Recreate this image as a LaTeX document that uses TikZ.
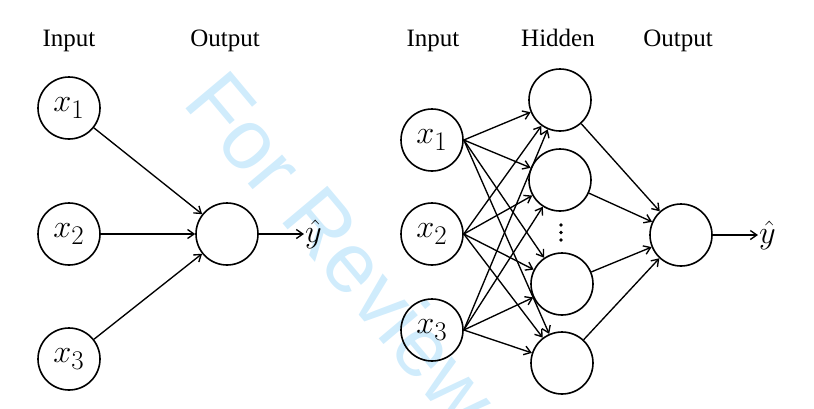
\documentclass[tikz,border=0pt]{standalone}
\usepackage{graphicx}
\usepackage{fontspec}
\setmainfont{Liberation Serif}
\newfontfamily\wmfont{Liberation Sans}
\usetikzlibrary{arrows.meta}
\definecolor{wmblue}{RGB}{208,236,252}
\newcommand{\bigmath}[1]{\scalebox{1.3}{$#1$}}
\begin{document}
\begin{tikzpicture}[x=1pt,y=-1pt,
  neuron/.style={circle,draw,line width=1.6pt,minimum size=62pt,inner sep=0pt,font=\fontsize{24.88}{27}\selectfont},
  lbl/.style={anchor=base,font=\fontsize{25}{28}\selectfont,inner sep=0pt},
  conn/.style={line width=1.35pt,-{Straight Barb[length=6.5pt,width=9pt]}},
  outl/.style={font=\fontsize{24.88}{27}\selectfont,inner sep=1pt,anchor=west},
  dotn/.style={circle,fill,inner sep=0pt,minimum size=3.8pt},
  wm/.style={text=wmblue,font=\wmfont\fontsize{85}{90}\selectfont,inner sep=0pt}]
\useasboundingbox (0,0) rectangle (814,408);
\clip (0,0) rectangle (814,408);
% watermark
\node[wm,rotate=-50,anchor=base west] (wmark) at (181,103) {For Review};
% left network
\node[lbl] (inL) at (69,46) {Input};
\node[lbl] (outLlbl) at (225,46) {Output};
\node[neuron] (a1) at (69,108) {\bigmath{x_1}};
\node[neuron] (a2) at (69,234) {\bigmath{x_2}};
\node[neuron] (a3) at (69,359) {\bigmath{x_3}};
\node[neuron] (ao) at (227,234) {};
\node[outl] (ay) at (304,234) {\bigmath{\hat{y}}};
\draw[conn] (a1) -- (ao);
\draw[conn] (a2) -- (ao);
\draw[conn] (a3) -- (ao);
\draw[conn] (ao) -- (ay);
% right network
\node[lbl] (inR) at (433,46) {Input};
\node[lbl] (hidR) at (558,46) {Hidden};
\node[lbl] (outR) at (678,46) {Output};
\node[neuron] (b1) at (432,140) {\bigmath{x_1}};
\node[neuron] (b2) at (432,234) {\bigmath{x_2}};
\node[neuron] (b3) at (432,330) {\bigmath{x_3}};
\node[neuron] (h1) at (560,100) {};
\node[neuron] (h2) at (560,180) {};
\node[neuron] (h3) at (562,284) {};
\node[neuron] (h4) at (562,363) {};
\node[dotn] (d1) at (561,225) {};
\node[dotn] (d2) at (561,232.5) {};
\node[dotn] (d3) at (561,240) {};
\node[neuron] (bo) at (681,235) {};
\node[outl] (by) at (758,235) {\bigmath{\hat{y}}};
\foreach \i in {b1,b2,b3}{
  \foreach \j in {h1,h2,h3,h4}{
    \draw[conn] (\i.east) -- (\j);
  }
}
\foreach \j in {h1,h2,h3,h4}{
  \draw[conn] (\j) -- (bo);
}
\draw[conn] (bo) -- (by);
\end{tikzpicture}
\end{document}
